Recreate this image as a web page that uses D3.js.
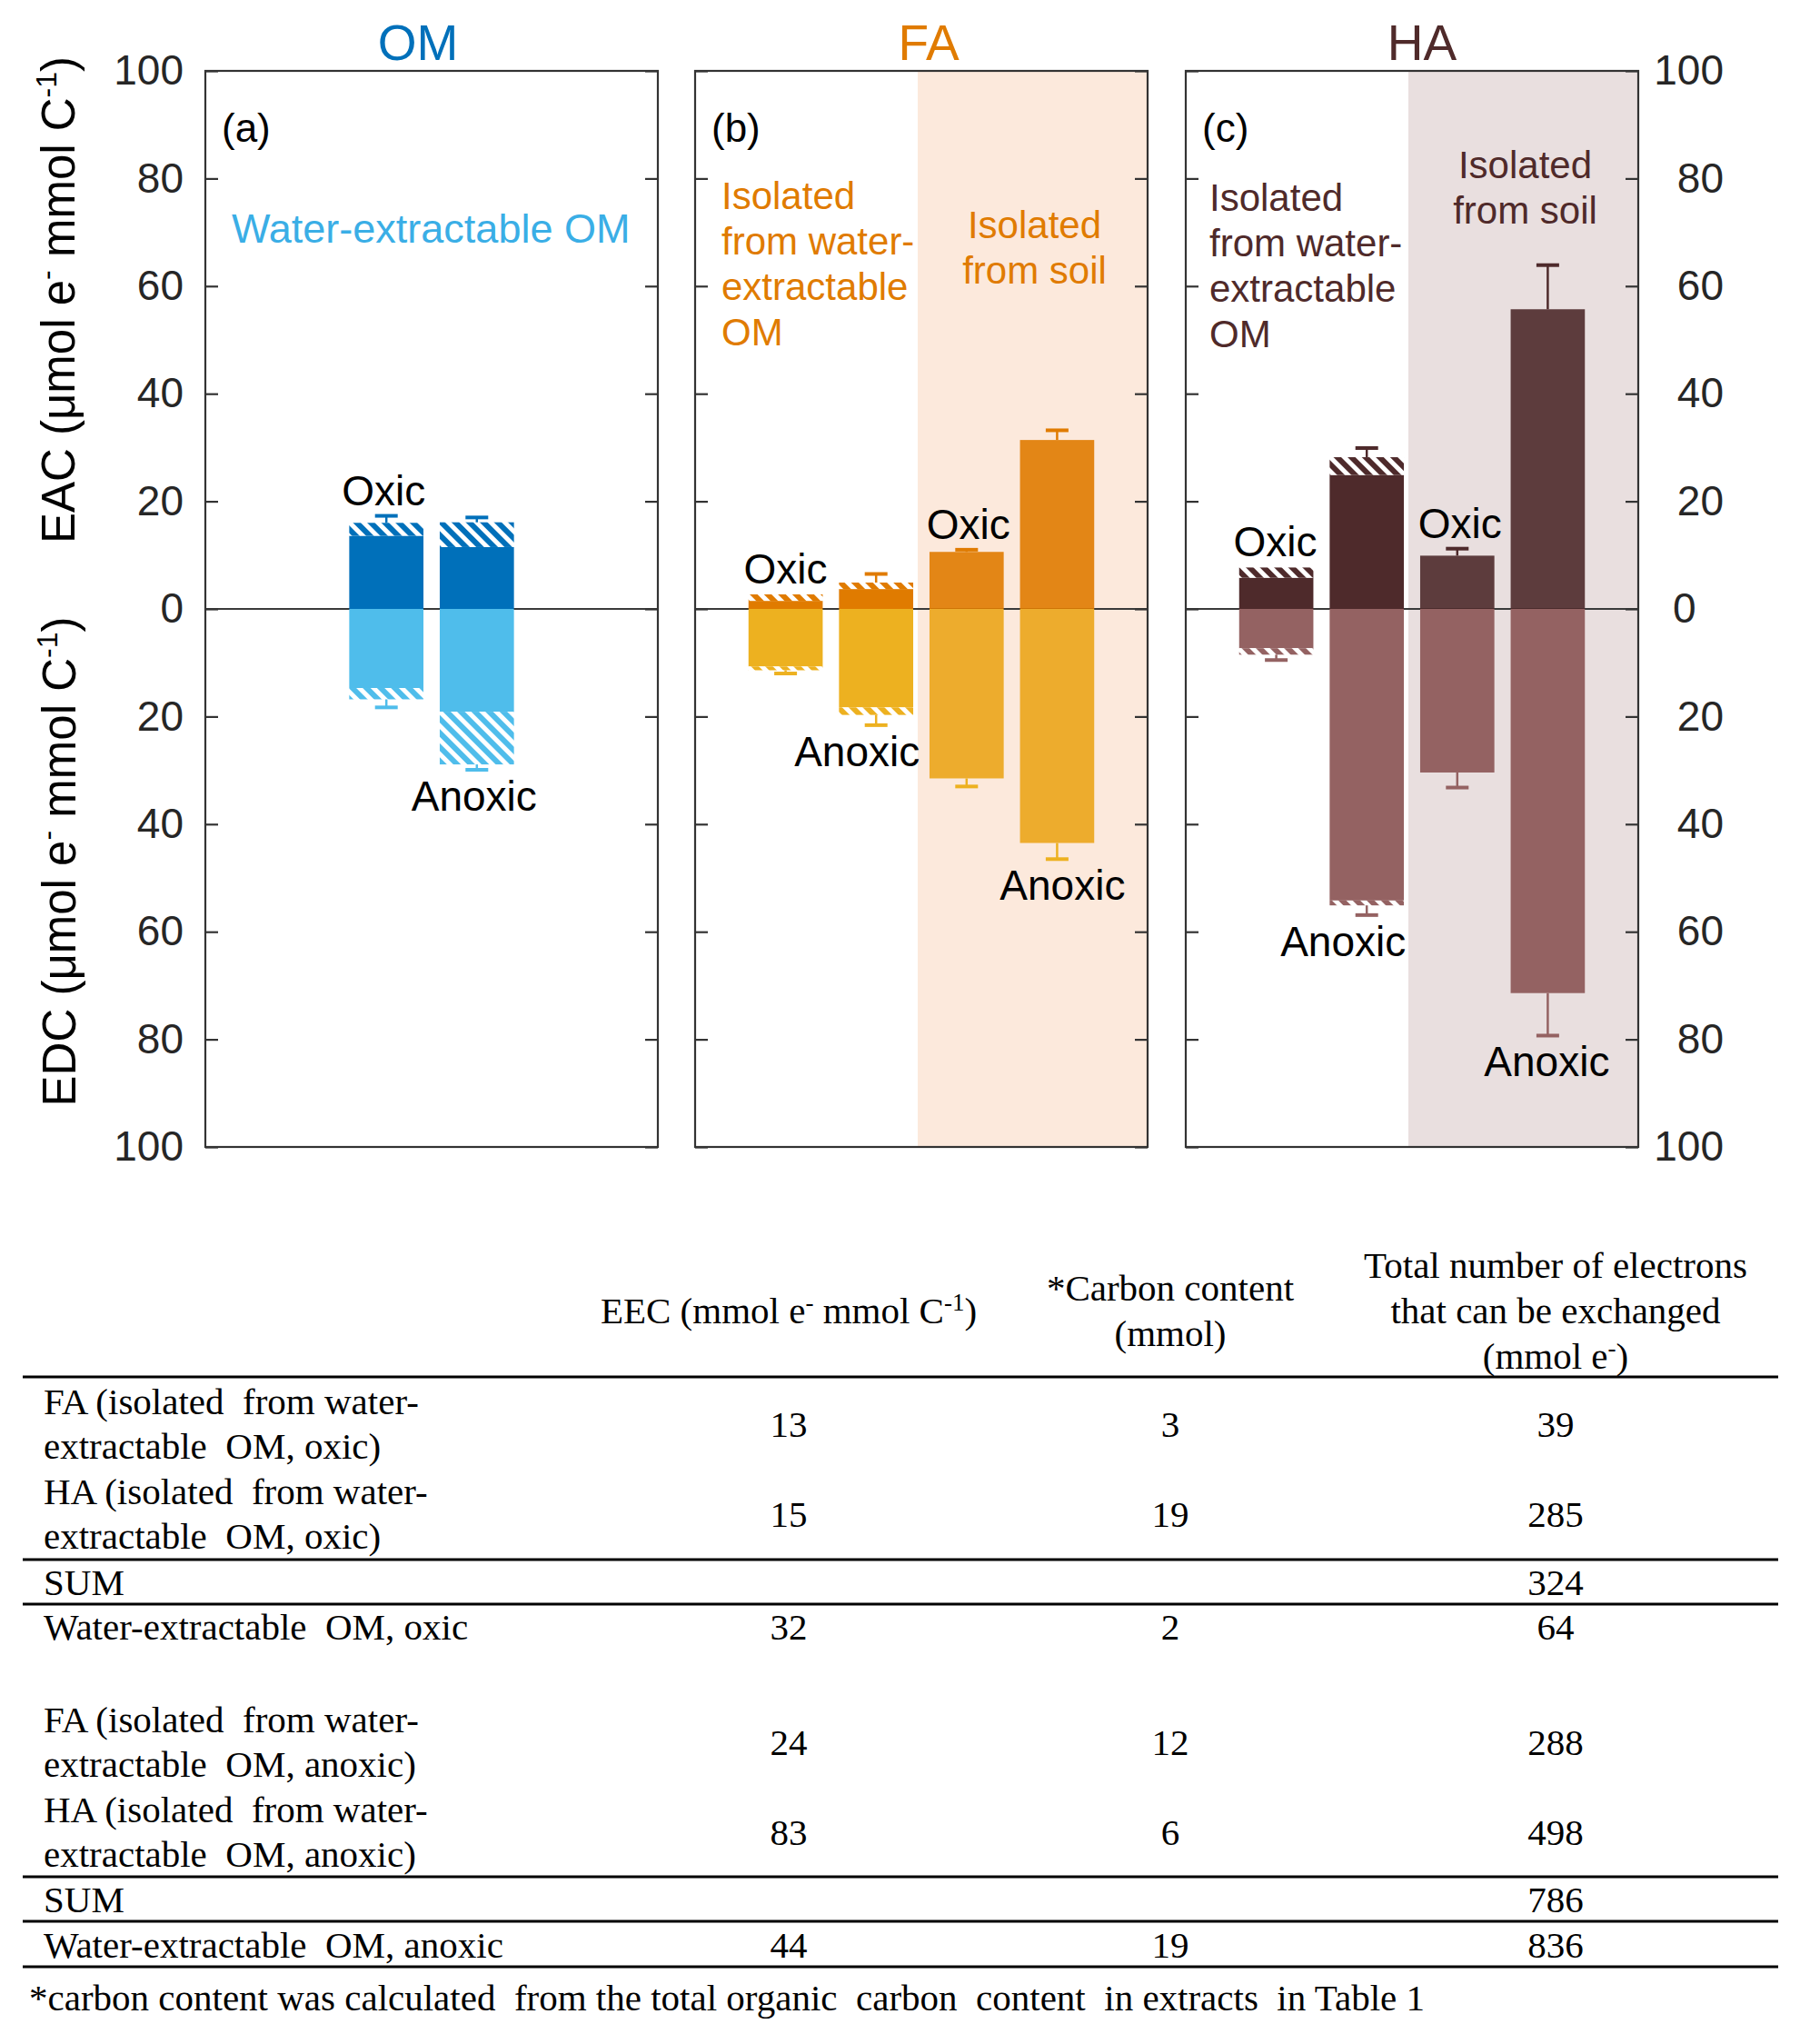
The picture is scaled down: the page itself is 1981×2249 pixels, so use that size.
<!DOCTYPE html>
<html><head><meta charset="utf-8">
<script src="https://cdn.jsdelivr.net/npm/d3@7"></script>
<style>
body{margin:0;background:#fff}
svg{display:block}
.sans{font-family:"Liberation Sans",Arial,Helvetica,sans-serif}
.serif{font-family:"Liberation Serif","Times New Roman",serif;white-space:pre}
</style>
</head><body>
<svg id="c" width="1981" height="2249"></svg>
<script>
// ---------------- DATA ----------------
const panelNames = ["OM", "FA", "HA"];
const panelTags = ["(a)", "(b)", "(c)"];
const yTickValues = [-100, -80, -60, -40, -20, 0, 20, 40, 60, 80, 100];
const yTickLabels = ["100", "80", "60", "40", "20", "0", "20", "40", "60", "80", "100"];

// OM (water-extractable OM)
const omSlots = [2, 3];
const omCond = ["Oxic", "Anoxic"];
const omEAC = [13.6, 11.5];
const omEACHatch = [16.0, 16.1];
const omEACErr = [17.3, 17.0];
const omEDC = [14.7, 19.1];
const omEDCHatch = [16.8, 28.9];
const omEDCErr = [18.3, 29.9];

// FA
const faSlots = [1, 2, 3, 4];
const faCond = ["Oxic", "Anoxic", "Oxic", "Anoxic"];
const faEAC = [1.5, 3.7, 10.6, 31.4];
const faEACHatch = [2.7, 4.9, null, null];
const faEACErr = [null, 6.5, 11.0, 33.2];
const faEDC = [10.7, 18.3, 31.5, 43.5];
const faEDCHatch = [11.4, 19.7, null, null];
const faEDCErr = [12.0, 21.6, 33.0, 46.5];

// HA
const haSlots = [1, 2, 3, 4];
const haCond = ["Oxic", "Anoxic", "Oxic", "Anoxic"];
const haEAC = [5.8, 24.9, 9.9, 55.7];
const haEACHatch = [7.7, 28.2, null, null];
const haEACErr = [null, 29.9, 11.2, 63.9];
const haEDC = [7.3, 54.2, 30.4, 71.4];
const haEDCHatch = [8.5, 55.1, null, null];
const haEDCErr = [9.5, 56.9, 33.2, 79.3];

// annotation texts
const omNote = ["Water-extractable OM"];
const waterNote = ["Isolated", "from water-", "extractable", "OM"];
const soilNote = ["Isolated", "from soil"];

// Table
const tableHeaders = [
  ["EEC (mmol e", "-", " mmol C", "-1", ")"],
  ["*Carbon content", "(mmol)"],
  ["Total number of electrons", "that can be exchanged", "(mmol e-)"]
];
const rowLabels = [
  ["FA (isolated  from water-", "extractable  OM, oxic)"],
  ["HA (isolated  from water-", "extractable  OM, oxic)"],
  ["SUM"],
  ["Water-extractable  OM, oxic"],
  ["FA (isolated  from water-", "extractable  OM, anoxic)"],
  ["HA (isolated  from water-", "extractable  OM, anoxic)"],
  ["SUM"],
  ["Water-extractable  OM, anoxic"]
];
const eecValues = ["13", "15", "", "32", "24", "83", "", "44"];
const carbonValues = ["3", "19", "", "2", "12", "6", "", "19"];
const electronValues = ["39", "285", "324", "64", "288", "498", "786", "836"];
const footnote = "*carbon content was calculated  from the total organic  carbon  content  in extracts  in Table 1";

// ---------------- STYLE / LAYOUT ----------------
const W = 1981, H = 2249;
const svg = d3.select("#c");
svg.append("rect").attr("width", W).attr("height", H).attr("fill", "#fff");

const colors = {
  OM: {eac: "#0070BA", edc: "#4FBDEB", title: "#0070BA", note: "#3AAEE6"},
  FA: {eac: "#E07B00", edc: "#EDB120", edcShade: "#EDAC2D", title: "#E07B00", note: "#E07B00", shade: "#FCE9DC"},
  HA: {eac: "#4E2A2B", edc: "#946262", edcShade: "#946262", title: "#4F2A2A", note: "#4F2A2A", shade: "#E9DFDF"}
};
const panelData = [
  {slots: omSlots, cond: omCond, eac: omEAC, eacH: omEACHatch, eacE: omEACErr, edc: omEDC, edcH: omEDCHatch, edcE: omEDCErr},
  {slots: faSlots, cond: faCond, eac: faEAC, eacH: faEACHatch, eacE: faEACErr, edc: faEDC, edcH: faEDCHatch, edcE: faEDCErr},
  {slots: haSlots, cond: haCond, eac: haEAC, eacH: haEACHatch, eacE: haEACErr, edc: haEDC, edcH: haEDCHatch, edcE: haEDCErr}
];
const panelLeft = [226, 765, 1305];
const panelW = 498, plotTop = 78, plotBottom = 1262;
const barW = 0.82, capW = 25;
const titleDx = [-15, 8, 11];
const labelDx = [[-3, -3], [0, -21, 2, 6], [-1, -26, 3, -1]];

const y = d3.scaleLinear().domain([-100, 100]).range([plotBottom, plotTop]);

// hatch patterns
const defs = svg.append("defs");
function hatch(id, col) {
  const p = defs.append("pattern").attr("id", id).attr("patternUnits", "userSpaceOnUse")
    .attr("width", 11).attr("height", 11).attr("patternTransform", "rotate(-45)");
  p.append("rect").attr("width", 11).attr("height", 11).attr("fill", "#fff");
  p.append("rect").attr("width", 6).attr("height", 11).attr("fill", col);
}
panelNames.forEach(n => { hatch("h-" + n + "-eac", colors[n].eac); hatch("h-" + n + "-edc", colors[n].edc); });

panelNames.forEach((name, pi) => {
  const L = panelLeft[pi];
  const x = d3.scaleLinear().domain([0, 5]).range([L, L + panelW]);
  const g = svg.append("g");
  const c = colors[name];
  const pd = panelData[pi];

  // shading (isolated from soil)
  if (c.shade) {
    g.append("rect").attr("x", x(2.46)).attr("y", plotTop).attr("width", x(5) - x(2.46))
      .attr("height", plotBottom - plotTop).attr("fill", c.shade);
  }
  // zero line
  g.append("line").attr("x1", x(0)).attr("x2", x(5)).attr("y1", y(0)).attr("y2", y(0))
    .attr("stroke", "#3a3a3a").attr("stroke-width", 1.8);

  // bars
  pd.slots.forEach((s, i) => {
    const inShade = c.shade && s >= 3;
    const op = inShade ? 0.9 : 1;
    const bx = x(s - barW / 2), bw = x(s + barW / 2) - x(s - barW / 2);
    g.append("rect").attr("x", bx).attr("width", bw).attr("y", y(pd.eac[i]))
      .attr("height", y(0) - y(pd.eac[i])).attr("fill", c.eac).attr("fill-opacity", op);
    g.append("rect").attr("x", bx).attr("width", bw).attr("y", y(0))
      .attr("height", y(-pd.edc[i]) - y(0)).attr("fill", inShade ? c.edcShade : c.edc);
    if (pd.eacH[i] != null) {
      g.append("rect").attr("x", bx).attr("width", bw).attr("y", y(pd.eacH[i]))
        .attr("height", y(pd.eac[i]) - y(pd.eacH[i])).attr("fill", `url(#h-${name}-eac)`);
    }
    if (pd.edcH[i] != null) {
      g.append("rect").attr("x", bx).attr("width", bw).attr("y", y(-pd.edc[i]))
        .attr("height", y(-pd.edcH[i]) - y(-pd.edc[i])).attr("fill", `url(#h-${name}-edc)`);
    }
    const eTop = pd.eacH[i] != null ? pd.eacH[i] : pd.eac[i];
    if (pd.eacE[i] != null) {
      g.append("line").attr("x1", x(s)).attr("x2", x(s)).attr("y1", y(eTop)).attr("y2", y(pd.eacE[i]))
        .attr("stroke", c.eac).attr("stroke-width", 2.5);
      g.append("line").attr("x1", x(s) - capW / 2).attr("x2", x(s) + capW / 2)
        .attr("y1", y(pd.eacE[i])).attr("y2", y(pd.eacE[i])).attr("stroke", c.eac).attr("stroke-width", 4);
    }
    const eBot = pd.edcH[i] != null ? pd.edcH[i] : pd.edc[i];
    if (pd.edcE[i] != null) {
      g.append("line").attr("x1", x(s)).attr("x2", x(s)).attr("y1", y(-eBot)).attr("y2", y(-pd.edcE[i]))
        .attr("stroke", c.edc).attr("stroke-width", 2.5);
      g.append("line").attr("x1", x(s) - capW / 2).attr("x2", x(s) + capW / 2)
        .attr("y1", y(-pd.edcE[i])).attr("y2", y(-pd.edcE[i])).attr("stroke", c.edc).attr("stroke-width", 4);
    }
    const topVal = pd.eacE[i] != null ? pd.eacE[i] : eTop;
    const botVal = pd.edcE[i] != null ? pd.edcE[i] : eBot;
    const ly = pd.cond[i] === "Oxic" ? y(topVal) - 12 : y(-botVal) + 45;
    g.append("text").attr("class", "sans").attr("x", x(s) + labelDx[pi][i]).attr("y", ly)
      .attr("text-anchor", "middle").attr("font-size", 46).attr("fill", "#000").text(pd.cond[i]);
  });

  // frame
  g.append("rect").attr("x", x(0)).attr("y", plotTop).attr("width", panelW).attr("height", plotBottom - plotTop)
    .attr("fill", "none").attr("stroke", "#333").attr("stroke-width", 2.2);

  // axes (inward ticks)
  const leftAx = d3.axisLeft(y).tickValues(yTickValues).tickSize(-14).tickSizeOuter(0).tickPadding(24)
    .tickFormat((d, i) => pi === 0 ? yTickLabels[i] : "");
  const la = g.append("g").attr("transform", `translate(${x(0)},0)`).call(leftAx);
  const rightAx = d3.axisRight(y).tickValues(yTickValues).tickSize(-14).tickSizeOuter(0).tickPadding(38)
    .tickFormat((d, i) => pi === 2 ? yTickLabels[i] : "");
  const ra = g.append("g").attr("transform", `translate(${x(5)},0)`).call(rightAx);
  [la, ra].forEach(a => {
    a.attr("font-family", null).attr("font-size", null);
    a.select(".domain").remove();
    a.selectAll(".tick line").attr("stroke", "#333").attr("stroke-width", 2.2);
    a.selectAll(".tick text").attr("class", "sans").attr("font-size", 46).attr("fill", "#262626");
  });
  if (pi === 2) {
    ra.selectAll(".tick text").attr("text-anchor", d => d === 0 ? "start" : "end")
      .attr("x", d => d === 0 ? 38 : 94);
  }

  // title and tag
  g.append("text").attr("class", "sans").attr("x", x(2.5) + titleDx[pi]).attr("y", 66)
    .attr("text-anchor", "middle").attr("font-size", 55).attr("fill", c.title).text(name);
  g.append("text").attr("class", "sans").attr("x", x(0) + 18).attr("y", 156)
    .attr("font-size", 44).attr("fill", "#000").text(panelTags[pi]);

  // notes
  if (pi === 0) {
    g.append("text").attr("class", "sans").attr("x", x(0) + 29).attr("y", 267)
      .attr("font-size", 45).attr("fill", c.note).text(omNote[0]);
  } else {
    const wBase = pi === 1 ? 230 : 232;
    waterNote.forEach((t, k) => g.append("text").attr("class", "sans").attr("x", x(0) + (pi === 1 ? 29 : 26))
      .attr("y", wBase + 50 * k).attr("font-size", 42).attr("fill", c.note).text(t));
    const sBase = pi === 1 ? 262 : 196;
    soilNote.forEach((t, k) => g.append("text").attr("class", "sans").attr("x", x(3.75))
      .attr("y", sBase + 50 * k).attr("text-anchor", "middle").attr("font-size", 42).attr("fill", c.note).text(t));
  }
});

// y-axis titles
function supLabel(xb, yc, main) {
  const t = svg.append("text").attr("class", "sans").attr("transform", `translate(${xb},${yc}) rotate(-90)`)
    .attr("text-anchor", "middle").attr("font-size", 51).attr("fill", "#000");
  t.append("tspan").text(main + " (\u03BCmol e");
  t.append("tspan").attr("dy", -20).attr("font-size", 32).text("-");
  t.append("tspan").attr("dy", 20).text(" mmol C");
  t.append("tspan").attr("dy", -20).attr("font-size", 32).text("-1");
  t.append("tspan").attr("dy", 20).text(")");
}
supLabel(82, 330, "EAC");
supLabel(83, 948, "EDC");

// ---------------- TABLE ----------------
const tg = svg.append("g");
const colX = [868, 1288, 1712];
const tFont = 41;
const h0 = tg.append("text").attr("class", "serif").attr("x", colX[0]).attr("y", 1456)
  .attr("text-anchor", "middle").attr("font-size", tFont);
h0.append("tspan").text(tableHeaders[0][0]);
h0.append("tspan").attr("dy", -14).attr("font-size", 27).text(tableHeaders[0][1]);
h0.append("tspan").attr("dy", 14).text(tableHeaders[0][2]);
h0.append("tspan").attr("dy", -14).attr("font-size", 27).text(tableHeaders[0][3]);
h0.append("tspan").attr("dy", 14).text(tableHeaders[0][4]);
tableHeaders[1].forEach((t, k) => tg.append("text").attr("class", "serif").attr("x", colX[1])
  .attr("y", 1431 + 50 * k).attr("text-anchor", "middle").attr("font-size", tFont).text(t));
tableHeaders[2].forEach((t, k) => {
  const tt = tg.append("text").attr("class", "serif").attr("x", colX[2])
    .attr("y", 1406 + 50 * k).attr("text-anchor", "middle").attr("font-size", tFont);
  if (t === "(mmol e-)") {
    tt.append("tspan").text("(mmol e");
    tt.append("tspan").attr("dy", -14).attr("font-size", 27).text("-");
    tt.append("tspan").attr("dy", 14).text(")");
  } else tt.text(t);
});

const rowY = [1581, 1680, 1755, 1804, 1931, 2030, 2104, 2154];
rowLabels.forEach((lines, r) => {
  const ys = lines.length === 2 ? [rowY[r] - 25, rowY[r] + 24] : [rowY[r]];
  lines.forEach((t, k) => tg.append("text").attr("class", "serif").attr("x", 48).attr("y", ys[k])
    .attr("font-size", tFont).text(t));
  [eecValues[r], carbonValues[r], electronValues[r]].forEach((v, ci) => {
    if (v !== "") tg.append("text").attr("class", "serif").attr("x", colX[ci]).attr("y", rowY[r])
      .attr("text-anchor", "middle").attr("font-size", tFont).text(v);
  });
});
const hLines = [1515, 1716, 1765, 2065, 2114, 2164];
hLines.forEach(yy => tg.append("line").attr("x1", 25).attr("x2", 1957).attr("y1", yy).attr("y2", yy)
  .attr("stroke", "#000").attr("stroke-width", 3.2));
tg.append("text").attr("class", "serif").attr("x", 32).attr("y", 2212).attr("font-size", tFont).text(footnote);
</script>
</body></html>
